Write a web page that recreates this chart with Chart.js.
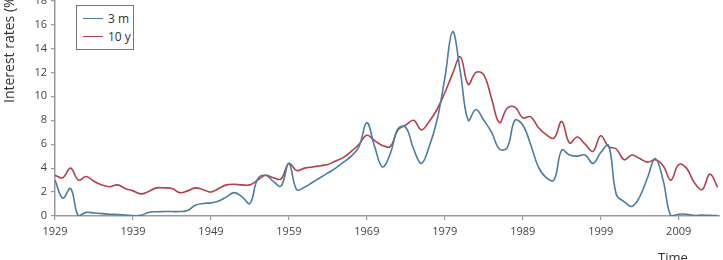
<!DOCTYPE html>
<html>
<head>
<meta charset="utf-8">
<script src="https://cdn.jsdelivr.net/npm/chart.js@4"></script>
<style>
  html, body { margin: 0; padding: 0; background: #fff; overflow: hidden; }
  #wrap { position: absolute; left: 0; top: -10px; width: 723px; height: 280px; }
  #legend {
    position: absolute; left: 76px; top: 5px; width: 58px; height: 45px;
    border: 1px solid #777; box-sizing: border-box; background: #fff;
    font: 12px "Open Sans", sans-serif; color: #333;
  }
  #legend .item { position: absolute; left: 0; height: 16px; line-height: 16px; white-space: nowrap; }
  #legend .swatch { position: absolute; left: 6px; top: 7px; width: 20px; height: 0; border-top: 1.5px solid; }
  #legend .label { position: absolute; left: 31px; top: 0; }
</style>
</head>
<body>
<div id="wrap"><canvas id="rates" width="723" height="280"></canvas></div>
<div id="legend"></div>
<script>
(() => {
  const years = [
    1929, 1930, 1931, 1932, 1933, 1934, 1935, 1936, 1937, 1938,
    1939, 1940, 1941, 1942, 1943, 1944, 1945, 1946, 1947, 1948,
    1949, 1950, 1951, 1952, 1953, 1954, 1955, 1956, 1957, 1958,
    1959, 1960, 1961, 1962, 1963, 1964, 1965, 1966, 1967, 1968,
    1969, 1970, 1971, 1972, 1973, 1974, 1975, 1976, 1977, 1978,
    1979, 1980, 1981, 1982, 1983, 1984, 1985, 1986, 1987, 1988,
    1989, 1990, 1991, 1992, 1993, 1994, 1995, 1996, 1997, 1998,
    1999, 2000, 2001, 2002, 2003, 2004, 2005, 2006, 2007, 2008,
    2009, 2010, 2011, 2012, 2013, 2014
  ];

  // 3-month rate (%)
  const threeMonth = [
    3.0, 1.5, 2.3, 0.0, 0.3, 0.25, 0.2, 0.15, 0.12, 0.08,
    0.03, 0.05, 0.3, 0.36, 0.37, 0.37, 0.37, 0.45, 0.9, 1.05,
    1.1, 1.25, 1.6, 1.95, 1.6, 1.05, 3.1, 3.4, 2.9, 2.5,
    4.4, 2.2, 2.4, 2.8, 3.2, 3.6, 4.0, 4.5, 5.0, 5.8,
    7.8, 5.8, 4.1, 5.2, 7.3, 7.4, 5.6, 4.4, 5.8, 8.0,
    11.5, 15.4, 12.0, 8.0, 8.9, 8.0, 7.0, 5.6, 5.7, 8.0,
    7.6, 6.0, 4.1, 3.2, 3.0, 5.5, 5.1, 5.0, 5.1, 4.4,
    5.3, 5.9, 1.8, 1.2, 0.8, 1.6, 3.2, 4.8, 3.0, 0.0,
    0.15, 0.15, 0.05, 0.08, 0.05, 0.03
  ];

  // 10-year rate (%)
  const tenYear = [
    3.4, 3.2, 4.0, 3.0, 3.3, 2.9, 2.6, 2.45, 2.6, 2.3,
    2.1, 1.85, 2.05, 2.35, 2.35, 2.3, 1.95, 2.1, 2.35, 2.2,
    2.0, 2.3, 2.6, 2.65, 2.6, 2.6, 3.0, 3.4, 3.2, 3.1,
    4.4, 3.8, 4.0, 4.1, 4.2, 4.3, 4.6, 4.9, 5.4, 6.0,
    6.75, 6.3, 5.9, 5.8, 7.2, 7.6, 8.0, 7.2, 7.9, 8.9,
    10.3, 11.9, 13.3, 11.0, 12.0, 11.8, 9.8, 7.8, 9.0, 9.1,
    8.2, 8.3, 7.4, 6.8, 6.5, 7.9, 6.1, 6.6, 6.0, 5.4,
    6.7, 5.8, 5.6, 4.7, 5.1, 4.8, 4.5, 4.7, 4.2, 3.0,
    4.3, 4.0, 2.8, 2.2, 3.5, 2.4
  ];

  const xTicks = [1929, 1939, 1949, 1959, 1969, 1979, 1989, 1999, 2009];
  const seriesNames = ["3 m", "10 y"];

  const axisColor = "#999";
  const textColor = "#444";
  const font = '"Open Sans", sans-serif';

  /* ---------------- AXIS TITLES ---------------- */
  const axisTitles = {
    id: "axisTitles",
    afterDraw(c) {
      const ctx = c.ctx;
      ctx.save();
      ctx.fillStyle = "#333";
      ctx.font = "14px " + font;
      ctx.textBaseline = "middle";
      ctx.translate(10, 113);
      ctx.rotate(-Math.PI / 2);
      ctx.textAlign = "left";
      ctx.fillText("Interest rates (%)", 0, 0);
      ctx.restore();

      ctx.save();
      ctx.fillStyle = "#333";
      ctx.font = "13px " + font;
      ctx.textBaseline = "top";
      ctx.textAlign = "left";
      ctx.fillText("Time", 658, 262);
      ctx.restore();
    }
  };

  const toPoints = vals => years.map((yr, i) => ({ x: yr, y: vals[i] }));

  const chart = new Chart(document.getElementById("rates"), {
    type: "line",
    data: {
      datasets: [{
        label: seriesNames[0],
        data: toPoints(threeMonth),
        borderColor: "#4d7c9e",
        borderWidth: 1.6,
        pointRadius: 0,
        tension: 0.4
      }, {
        label: seriesNames[1],
        data: toPoints(tenYear),
        borderColor: "#b2414a",
        borderWidth: 1.6,
        pointRadius: 0,
        tension: 0.4
      }]
    },
    options: {
      responsive: false,
      animation: false,
      devicePixelRatio: 1,
      layout: { padding: { top: 10, right: 3, left: 0, bottom: 0 } },
      plugins: { legend: { display: false }, tooltip: { enabled: false } },
      scales: {
        x: {
          type: "linear",
          min: 1929,
          max: 2014.3,
          afterBuildTicks: s => { s.ticks = xTicks.map(v => ({ value: v })); },
          afterFit: s => { s.height = 54; },
          border: { color: axisColor, width: 1.5 },
          grid: { drawOnChartArea: false, tickLength: 4, color: axisColor, lineWidth: 1.2 },
          ticks: {
            autoSkip: false, maxRotation: 0, padding: 5,
            color: textColor, font: { family: font, size: 11 },
            callback: v => String(v)
          }
        },
        y: {
          min: 0,
          max: 18,
          afterFit: s => { s.width = 55; },
          border: { color: axisColor, width: 1.5 },
          grid: { drawOnChartArea: false, tickLength: 4, color: axisColor, lineWidth: 1.2 },
          ticks: {
            stepSize: 2, padding: 4,
            color: textColor, font: { family: font, size: 11 }
          }
        }
      }
    },
    plugins: [axisTitles]
  });

  /* ---------------- LEGEND ---------------- */
  const legend = document.getElementById("legend");
  chart.data.datasets.forEach((ds, i) => {
    const item = document.createElement("div");
    item.className = "item";
    item.style.top = (5 + i * 18) + "px";
    item.innerHTML = `<span class="swatch" style="border-color:${ds.borderColor}"></span><span class="label">${ds.label}</span>`;
    legend.appendChild(item);
  });
})();
</script>
</body>
</html>
